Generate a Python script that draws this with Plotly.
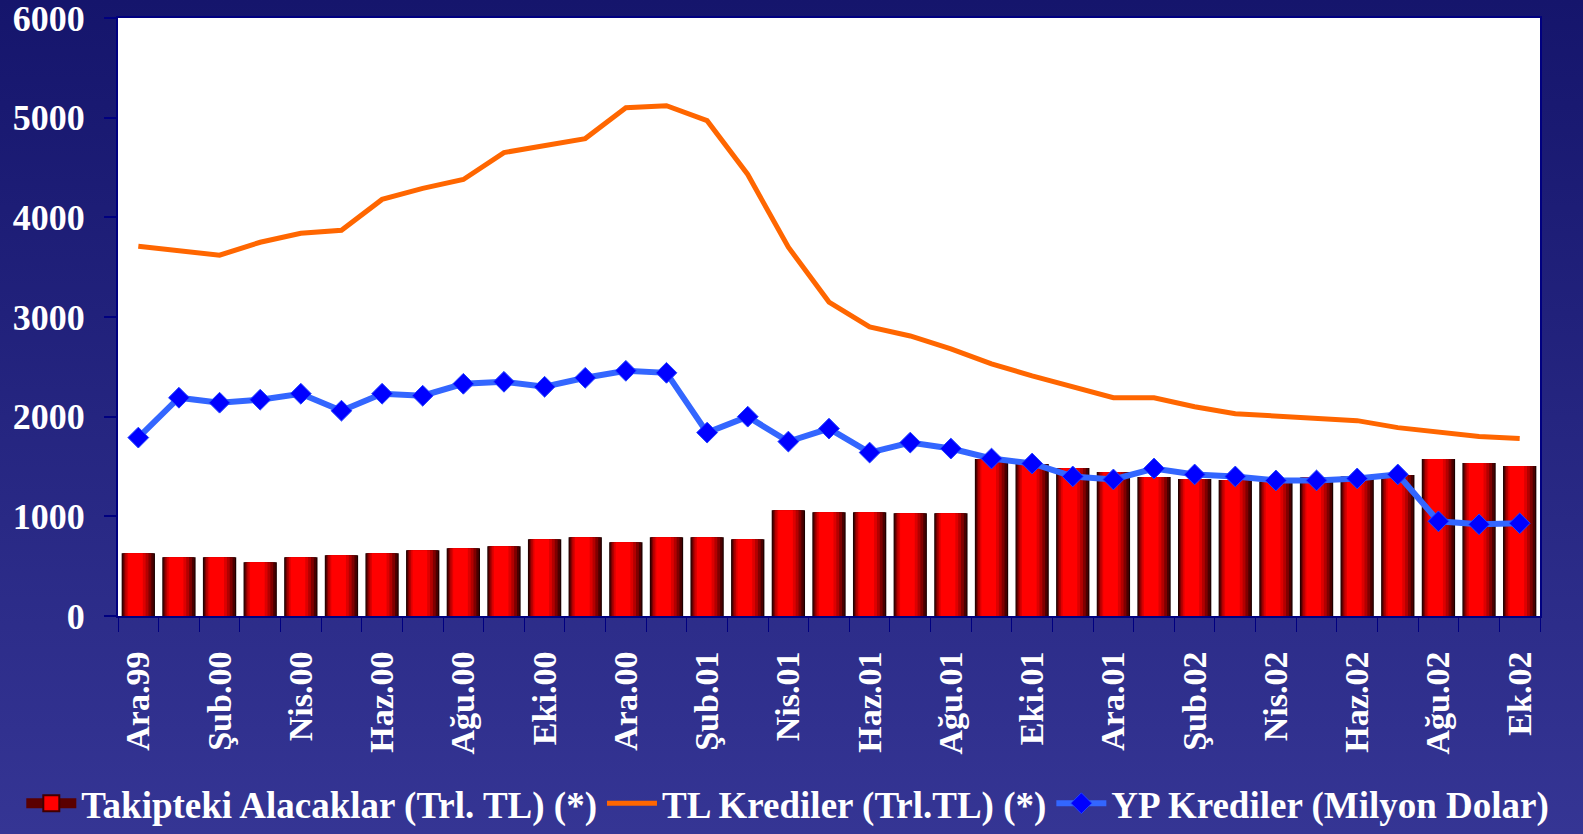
import base64
import plotly.graph_objects as go

# month labels, Ara.99 .. Ek.02
months = ["Ara.99", "Oca.00", "Şub.00", "Mar.00", "Nis.00", "May.00", "Haz.00", "Tem.00",
          "Ağu.00", "Eyl.00", "Eki.00", "Kas.00", "Ara.00", "Oca.01", "Şub.01", "Mar.01",
          "Nis.01", "May.01", "Haz.01", "Tem.01", "Ağu.01", "Eyl.01", "Eki.01", "Kas.01",
          "Ara.01", "Oca.02", "Şub.02", "Mar.02", "Nis.02", "May.02", "Haz.02", "Tem.02",
          "Ağu.02", "Eyl.02", "Ek.02"]

takipteki = [630, 590, 590, 540, 590, 610, 630, 660, 680, 700, 770, 790, 740, 790, 790, 770,
             1060, 1040, 1040, 1030, 1030, 1575, 1525, 1485, 1445, 1395, 1375, 1365, 1350,
             1390, 1400, 1415, 1575, 1535, 1505]

tl_krediler = [3710, 3670, 3620, 3750, 3840, 3870, 4180, 4290, 4380, 4650, 4720, 4790, 5100,
               5120, 4970, 4430, 3700, 3150, 2900, 2810, 2680, 2530, 2410, 2300, 2190, 2190,
               2100, 2030, 2010, 1980, 1960, 1890, 1850, 1800, 1780]

yp_krediler = [1790, 2190, 2140, 2170, 2230, 2060, 2230, 2210, 2330, 2350, 2300, 2390, 2460,
               2440, 1840, 2000, 1750, 1880, 1640, 1740, 1680, 1580, 1530, 1400, 1370, 1480,
               1420, 1400, 1360, 1360, 1380, 1420, 950, 920, 930]

W, H = 1583, 834
ML, MR, MT, MB = 118, 43, 18, 218
FONT = "Liberation Serif"
BAR_NAME = "Takipteki Alacaklar (Trl. TL) (*)"

fig = go.Figure()

# fake the horizontal gradient of the bars with stacked narrower layers
layers = [(-0.41, 0.82, "#1c0000"), (-0.39, 0.77, "#4a0000"), (-0.36, 0.68, "#800000"),
          (-0.33, 0.58, "#b30000"), (-0.29, 0.47, "#dd0000"), (-0.25, 0.36, "#ff0000")]
for i, (off, w, col) in enumerate(layers):
    last = i == len(layers) - 1
    fig.add_trace(go.Bar(
        x=months, y=takipteki, offset=off, width=w,
        marker=dict(color=col, line=dict(width=0)),
        name=BAR_NAME, showlegend=False, legendgroup="bar",
        hoverinfo="skip" if not last else None,
    ))

# legend swatch for the bars (dark edges, red centre), no points of its own
fig.add_trace(go.Scatter(
    x=[None], y=[None], mode="lines+markers", name=BAR_NAME, legendgroup="bar",
    line=dict(color="#5a0000", width=10),
    marker=dict(symbol="square", size=16, color="#ff0000", line=dict(color="#400000", width=2)),
))

fig.add_trace(go.Scatter(
    x=months, y=tl_krediler, mode="lines",
    line=dict(color="#ff6600", width=5),
    name="TL Krediler (Trl.TL) (*)",
))

fig.add_trace(go.Scatter(
    x=months, y=yp_krediler, mode="lines+markers",
    line=dict(color="#3366ff", width=6),
    marker=dict(symbol="diamond", size=16, color="#0000ff", line=dict(color="#2244ff", width=1)),
    name="YP Krediler (Milyon Dolar)",
))

# navy background gradient behind everything
svg = ('<svg xmlns="http://www.w3.org/2000/svg" width="10" height="100" preserveAspectRatio="none">'
       '<defs><linearGradient id="g" x1="0" y1="0" x2="0" y2="1">'
       '<stop offset="0" stop-color="#15156c"/><stop offset="1" stop-color="#353594"/>'
       '</linearGradient></defs><rect width="10" height="100" fill="url(#g)"/></svg>')
bg = "data:image/svg+xml;base64," + base64.b64encode(svg.encode()).decode()
pw, ph = W - ML - MR, H - MT - MB
fig.add_layout_image(dict(
    source=bg, xref="paper", yref="paper",
    x=-ML / pw, y=1 + MT / ph, sizex=W / pw, sizey=H / ph,
    xanchor="left", yanchor="top", sizing="stretch", layer="below",
))
# white plot area on top of the gradient
fig.add_shape(type="rect", xref="paper", yref="paper", x0=0, x1=1, y0=0, y1=1,
              fillcolor="white", line=dict(width=0), layer="below")

fig.update_layout(
    width=W, height=H,
    margin=dict(l=ML, r=MR, t=MT, b=MB, autoexpand=False),
    paper_bgcolor="#25257f",
    plot_bgcolor="white",
    barmode="overlay",
    font=dict(family=FONT, color="white", size=30),
    showlegend=True,
    legend=dict(
        orientation="h", x=-0.068, xanchor="left", y=-0.262, yanchor="top",
        font=dict(family=FONT, size=37, color="white", weight="bold"),
        bgcolor="rgba(0,0,0,0)", itemwidth=50, tracegroupgap=0,
    ),
)

fig.update_xaxes(
    type="category",
    tickvals=months,
    ticktext=[m if i % 2 == 0 else "" for i, m in enumerate(months)],
    tickangle=-90,
    tickson="boundaries",
    ticks="outside", ticklen=14, tickcolor="#000080", tickwidth=1,
    ticklabelstandoff=20,
    tickfont=dict(family=FONT, size=34, color="white", weight="bold"),
    showgrid=False, showline=True, linecolor="#000080", linewidth=2, mirror=True,
    range=[-0.5, len(months) - 0.5], automargin=False,
)

fig.update_yaxes(
    range=[0, 6000], tickvals=[0, 1000, 2000, 3000, 4000, 5000, 6000],
    ticks="outside", ticklen=12, tickcolor="#000080", tickwidth=2,
    ticklabelstandoff=12, ticklabeloverflow="allow",
    tickfont=dict(family=FONT, size=36, color="white", weight="bold"),
    showgrid=False, zeroline=False, showline=True, linecolor="#000080", linewidth=2, mirror=True,
    automargin=False,
)

fig.write_html("out.html", config={"displayModeBar": False},
               post_script="document.body.style.margin='0';")
